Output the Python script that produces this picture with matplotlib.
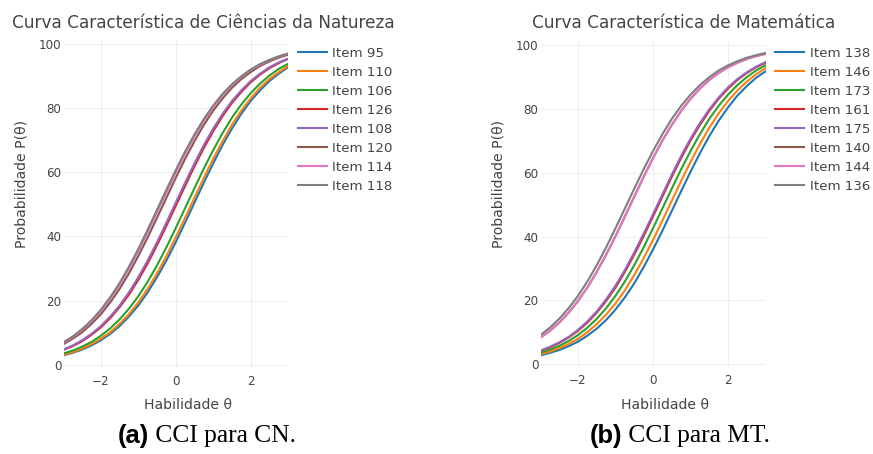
import matplotlib
matplotlib.use('Agg')
import matplotlib.pyplot as plt

# habilidade (theta): -3 a 3, passo 0.25
theta = [-3.0, -2.75, -2.5, -2.25, -2.0, -1.75, -1.5, -1.25, -1.0, -0.75, -0.5, -0.25,
         0.0, 0.25, 0.5, 0.75, 1.0, 1.25, 1.5, 1.75, 2.0, 2.25, 2.5, 2.75, 3.0]

# Ciencias da Natureza - probabilidade (%)
cn_labels = ['Item 95', 'Item 110', 'Item 106', 'Item 126',
             'Item 108', 'Item 120', 'Item 114', 'Item 118']
cn_95 = [3.0, 3.8, 4.8, 6.1, 7.7, 9.7, 12.1, 15.1, 18.5, 22.6, 27.3, 32.5, 38.2,
         44.3, 50.5, 56.7, 62.7, 68.4, 73.5, 78.1, 82.1, 85.4, 88.3, 90.6, 92.6]
cn_110 = [3.2, 4.0, 5.1, 6.5, 8.2, 10.2, 12.8, 15.8, 19.5, 23.7, 28.5, 33.9, 39.7,
          45.8, 52.0, 58.2, 64.1, 69.6, 74.7, 79.1, 82.9, 86.2, 88.9, 91.1, 93.0]
cn_106 = [3.6, 4.5, 5.7, 7.2, 9.1, 11.4, 14.2, 17.5, 21.4, 25.9, 31.0, 36.6, 42.6,
          48.8, 55.0, 61.1, 66.8, 72.1, 76.9, 81.0, 84.5, 87.5, 90.0, 92.1, 93.7]
cn_126 = [4.7, 5.9, 7.4, 9.4, 11.7, 14.6, 18.0, 21.9, 26.5, 31.6, 37.3, 43.3, 49.5,
          55.7, 61.8, 67.5, 72.7, 77.4, 81.5, 84.9, 87.9, 90.3, 92.3, 93.9, 95.2]
cn_108 = [4.8, 6.1, 7.7, 9.7, 12.1, 15.1, 18.5, 22.6, 27.3, 32.5, 38.2, 44.3, 50.5,
          56.7, 62.7, 68.4, 73.5, 78.1, 82.1, 85.4, 88.3, 90.6, 92.6, 94.1, 95.3]
cn_120 = [6.5, 8.2, 10.2, 12.8, 15.8, 19.5, 23.7, 28.5, 33.9, 39.7, 45.8, 52.0, 58.2,
          64.1, 69.6, 74.7, 79.1, 82.9, 86.2, 88.9, 91.1, 93.0, 94.4, 95.6, 96.5]
cn_114 = [6.9, 8.7, 10.9, 13.6, 16.8, 20.6, 25.0, 29.9, 35.4, 41.3, 47.5, 53.7, 59.9,
          65.7, 71.1, 76.0, 80.2, 83.9, 87.0, 89.6, 91.7, 93.4, 94.8, 95.9, 96.8]
cn_118 = [7.1, 8.9, 11.2, 13.9, 17.2, 21.1, 25.5, 30.6, 36.1, 42.1, 48.3, 54.5, 60.6,
          66.4, 71.7, 76.5, 80.7, 84.3, 87.3, 89.8, 91.9, 93.6, 94.9, 96.0, 96.9]

# Matematica
mt_labels = ['Item 138', 'Item 146', 'Item 173', 'Item 161',
             'Item 175', 'Item 140', 'Item 144', 'Item 136']
mt_138 = [2.7, 3.5, 4.4, 5.6, 7.0, 8.9, 11.1, 13.8, 17.1, 20.9, 25.3, 30.4, 35.9,
          41.8, 48.0, 54.2, 60.3, 66.1, 71.5, 76.3, 80.5, 84.2, 87.2, 89.8, 91.8]
mt_146 = [3.1, 3.9, 5.0, 6.3, 7.9, 10.0, 12.5, 15.5, 19.0, 23.1, 27.9, 33.2, 38.9,
          45.0, 51.2, 57.4, 63.4, 69.0, 74.1, 78.6, 82.5, 85.8, 88.6, 90.9, 92.8]
mt_173 = [3.6, 4.5, 5.7, 7.2, 9.1, 11.4, 14.2, 17.5, 21.4, 25.9, 31.0, 36.6, 42.6,
          48.8, 55.0, 61.1, 66.8, 72.1, 76.9, 81.0, 84.5, 87.5, 90.0, 92.1, 93.7]
mt_161 = [4.1, 5.2, 6.6, 8.3, 10.4, 13.0, 16.1, 19.8, 24.0, 28.9, 34.3, 40.1, 46.3,
          52.5, 58.7, 64.6, 70.1, 75.0, 79.4, 83.2, 86.4, 89.1, 91.3, 93.1, 94.5]
mt_175 = [4.2, 5.4, 6.8, 8.5, 10.7, 13.4, 16.5, 20.3, 24.6, 29.5, 35.0, 40.9, 47.0,
          53.2, 59.4, 65.3, 70.7, 75.6, 79.9, 83.6, 86.8, 89.4, 91.5, 93.3, 94.7]
mt_140 = [8.3, 10.4, 13.0, 16.1, 19.8, 24.0, 28.9, 34.3, 40.1, 46.3, 52.5, 58.7, 64.6,
          70.1, 75.0, 79.4, 83.2, 86.4, 89.1, 91.3, 93.1, 94.5, 95.7, 96.6, 97.3]
mt_144 = [8.3, 10.4, 13.0, 16.1, 19.8, 24.0, 28.9, 34.3, 40.1, 46.3, 52.5, 58.7, 64.6,
          70.1, 75.0, 79.4, 83.2, 86.4, 89.1, 91.3, 93.1, 94.5, 95.7, 96.6, 97.3]
mt_136 = [9.1, 11.4, 14.2, 17.5, 21.4, 25.9, 31.0, 36.6, 42.6, 48.8, 55.0, 61.1, 66.8,
          72.1, 76.9, 81.0, 84.5, 87.5, 90.0, 92.1, 93.7, 95.0, 96.1, 96.9, 97.6]

cn_series = [cn_95, cn_110, cn_106, cn_126, cn_108, cn_120, cn_114, cn_118]
mt_series = [mt_138, mt_146, mt_173, mt_161, mt_175, mt_140, mt_144, mt_136]

colors = ['#1f77b4', '#ff7f0e', '#2ca02c', '#d62728',
          '#9467bd', '#8c564b', '#e377c2', '#7f7f7f']

W, H = 873, 454
FONT = 'DejaVu Sans'
TXT = '#444444'

fig = plt.figure(figsize=(W / 100, H / 100), dpi=100)


def fx(x):
    return x / W


def fy(y):
    return 1 - y / H


def make_panel(box, series, labels, title, title_x, xlab_x, ylab_x, leg_x):
    left, top, right, bottom = box
    ax = fig.add_axes([fx(left), fy(bottom), fx(right - left), (bottom - top) / H])
    for vals, lab, c in zip(series, labels, colors):
        ax.plot(theta, vals, color=c, lw=1.5, label=lab)
    ax.set_xlim(-3, 3)
    ax.set_ylim(-1, 101)
    ax.set_xticks([-2, 0, 2])
    ax.set_yticks([0, 20, 40, 60, 80, 100])
    ax.grid(True, color='#eeeeee', lw=0.8)
    ax.set_axisbelow(True)
    for s in ax.spines.values():
        s.set_visible(False)
    ax.tick_params(axis='both', length=0, colors=TXT, labelsize=8.6)
    ax.tick_params(axis='x', pad=5)
    ax.tick_params(axis='y', pad=1.5)
    for t in ax.get_xticklabels() + ax.get_yticklabels():
        t.set_fontfamily(FONT)
    fig.text(fx(title_x), fy(23), title, ha='center', va='center',
             fontsize=12.2, color=TXT, family=FONT)
    fig.text(fx(xlab_x), fy(405), 'Habilidade θ', ha='center', va='center',
             fontsize=10.1, color=TXT, family=FONT)
    fig.text(fx(ylab_x), fy(184.5), 'Probabilidade P(θ)', ha='center', va='center',
             rotation=90, fontsize=10.1, color=TXT, family=FONT)
    leg = ax.legend(loc='upper left', bbox_to_anchor=(fx(leg_x), fy(47)),
                    bbox_transform=fig.transFigure, frameon=False,
                    prop={'family': FONT, 'size': 9.6}, handlelength=2.2,
                    handletextpad=0.4, labelspacing=0.45, borderpad=0,
                    borderaxespad=0)
    for t in leg.get_texts():
        t.set_color(TXT)
    return ax


make_panel((63.5, 40.3, 288, 368.2), cn_series, cn_labels,
           'Curva Característica de Ciências da Natureza', 203.5, 188, 21.7, 297.7)
make_panel((540.5, 42.1, 765.5, 367.2), mt_series, mt_labels,
           'Curva Característica de Matemática', 684, 665, 498.3, 775)

# legendas das subfiguras
fig.canvas.draw()
renderer = fig.canvas.get_renderer()
for x0, tag, rest in [(118, '(a)', ' CCI para CN.'), (590, '(b)', ' CCI para MT.')]:
    t1 = fig.text(fx(x0), fy(436), tag, ha='left', va='center', fontsize=18.4,
                  fontweight='bold', family='Liberation Sans', color='black')
    ext = t1.get_window_extent(renderer)
    fig.text(ext.x1 / W, fy(436), rest, ha='left', va='center', fontsize=18.4,
             family='Liberation Serif', color='black')

fig.savefig('out.png', dpi=100)
